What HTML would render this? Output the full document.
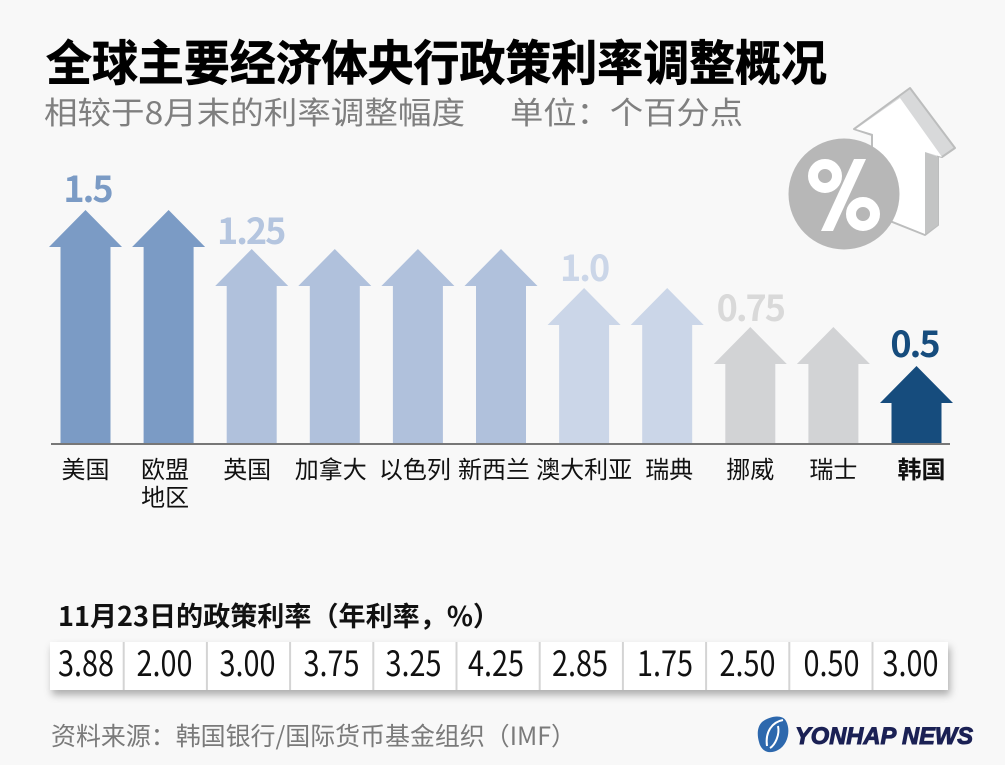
<!DOCTYPE html>
<html lang="zh">
<head>
<meta charset="utf-8">
<title>全球主要经济体央行政策利率调整概况</title>
<style>
html,body{margin:0;padding:0;background:#f8f8f8;}
body{width:1005px;height:765px;overflow:hidden;}
svg{display:block;}
text{font-family:"Noto Sans CJK SC","Liberation Sans",sans-serif;}
text.wordmark{font-family:"Liberation Sans",sans-serif;}
</style>
</head>
<body>
<svg id="chart" xmlns="http://www.w3.org/2000/svg" width="1005" height="765" viewBox="0 0 1005 765">
  <defs>
    <filter id="tableShadow" x="-5%" y="-30%" width="110%" height="170%">
      <feDropShadow dx="2" dy="5" stdDeviation="4" flood-color="#000" flood-opacity="0.3"/>
    </filter>
  </defs>
  <rect x="0" y="0" width="1005" height="765" fill="#f8f8f8"/>

  <text x="46" y="80" font-size="48" font-weight="700" fill="#000" stroke="#000" stroke-width="0.7" textLength="781" lengthAdjust="spacingAndGlyphs">全球主要经济体央行政策利率调整概况</text>
  <text x="44" y="124" font-size="31" fill="#7f7f7f" textLength="421" lengthAdjust="spacingAndGlyphs">相较于8月末的利率调整幅度</text>
  <text x="510" y="124" font-size="31" fill="#7f7f7f" textLength="233" lengthAdjust="spacingAndGlyphs">单位：个百分点</text>

  <g>
    <polygon points="854,129 910,88 955,148 942,157 938,156 938,225 925,235 872,214 872,135" fill="#d8d9da" stroke="#bcbdbd" stroke-width="2" stroke-linejoin="round"/>
    <polygon points="925,152 938,157 938,225 925,234" fill="#c3c4c4"/>
    <polygon points="856,129 900,98 942,157 925,152 925,234 873,213 873,134" fill="#fff"/>
    <circle cx="844" cy="194" r="55.5" fill="#b7b7b7"/>
    <circle cx="825" cy="176" r="12" fill="none" stroke="#fff" stroke-width="10"/>
    <circle cx="863" cy="214" r="12" fill="none" stroke="#fff" stroke-width="10"/>
    <polygon points="854,159 866,159 833,231 821,231" fill="#fff"/>
  </g>

  <g id="marks"></g>
  <line x1="51" x2="950" y1="444" y2="444" stroke="#777" stroke-width="2"/>
  <g id="value-labels"></g>
  <g id="category-labels"></g>

  <text x="58" y="626" font-size="27" font-weight="700" fill="#111" textLength="442" lengthAdjust="spacingAndGlyphs">11月23日的政策利率（年利率，%）</text>
  <rect x="50" y="642" width="898" height="48" fill="#fff" filter="url(#tableShadow)"/>
  <g id="rate-table"></g>

  <text x="51" y="745" font-size="25" fill="#7a7a7a" textLength="525" lengthAdjust="spacingAndGlyphs">资料来源：韩国银行/国际货币基金组织（IMF）</text>

  <g>
    <path d="M762,722 C770,716 782,714 786,721 C791,730 788,745 778,750 C769,755 761,751 759,742 C757,735 757,727 762,722 Z" fill="#2d68ad"/>
    <path d="M783,720 C772,722 765,732 767,746 M778,726 C780,735 775,745 770,748" fill="none" stroke="#fff" stroke-width="2"/>
    <text class="wordmark" x="795" y="744" font-size="24" font-weight="700" font-style="italic" fill="#1b2154" stroke="#1b2154" stroke-width="1" textLength="178" lengthAdjust="spacingAndGlyphs">YONHAP NEWS</text>
  </g>
</svg>
<script>
const categories = ['美国', '欧盟\n地区', '英国', '加拿大', '以色列', '新西兰', '澳大利亚', '瑞典', '挪威', '瑞士', '韩国'];
const rateChanges = [1.5, 1.5, 1.25, 1.25, 1.25, 1.25, 1.0, 1.0, 0.75, 0.75, 0.5];
const printedChanges = ['1.5', '', '1.25', '', '', '', '1.0', '', '0.75', '', '0.5'];
const policyRates = ['3.88', '2.00', '3.00', '3.75', '3.25', '4.25', '2.85', '1.75', '2.50', '0.50', '3.00'];

const SVG_NS = 'http://www.w3.org/2000/svg';
const baseY = 444;
function xScale(i) { return 85.5 + i * 83.1; }
function yScale(v) { return baseY - 156 * v; }
function barColor(i, v) {
  if (i === categories.length - 1) return '#164c7d';
  if (v >= 1.5) return '#7b9bc5';
  if (v >= 1.25) return '#b0c1dc';
  if (v >= 1) return '#cbd6e8';
  return '#d2d3d5';
}
function labelColor(i, v) {
  if (i === categories.length - 1) return '#164c7d';
  if (v >= 1.5) return '#7b9bc5';
  if (v >= 1.25) return '#b4c5df';
  if (v >= 1) return '#cbd6e8';
  return '#d9d9d9';
}
function labelNudge(name) {
  const nudges = { '欧盟\n地区': -3.5, '英国': -4.5, '加拿大': -4, '以色列': -3, '新西兰': -7, '瑞典': 2, '韩国': 5 };
  return nudges[name] || 0;
}
function valueNudgeX(i) {
  const nudges = { 0: 1, 2: -2, 6: -1, 8: -1, 10: -3 };
  return nudges[i] || 0;
}
function valueGapY(i) {
  const gaps = { 0: 8, 2: 5, 6: 7, 8: 6, 10: 9 };
  return gaps[i] || 7;
}
function rateCellCenter(i) {
  const nudges = { 1: -4, 2: -3.5, 3: -2, 4: -2.5, 5: -2.5, 6: -1, 7: 1.5, 8: 1.5, 9: 3, 10: -0.5 };
  return 86 + i * 82.5 + (nudges[i] || 0);
}

const marks = document.getElementById('marks');
const valueLabels = document.getElementById('value-labels');
const categoryLabels = document.getElementById('category-labels');
const rateTable = document.getElementById('rate-table');

categories.forEach(function (name, i) {
  const v = rateChanges[i];
  const cx = xScale(i);
  const top = yScale(v);
  const headBase = top + 37;
  const arrow = document.createElementNS(SVG_NS, 'polygon');
  
  
  arrow.setAttribute('points', [
    [cx, top], [cx + 36.5, headBase], [cx + 25, headBase], [cx + 25, baseY],
    [cx - 25, baseY], [cx - 25, headBase], [cx - 36.5, headBase]
  ].map(function (p) { return p.join(','); }).join(' '));
  arrow.setAttribute('fill', barColor(i, v));
  marks.appendChild(arrow);

  if (printedChanges[i]) {
    const vt = document.createElementNS(SVG_NS, 'text');
    
    
    vt.setAttribute('x', cx + 1 + valueNudgeX(i));
    vt.setAttribute('y', top - valueGapY(i));
    vt.setAttribute('text-anchor', 'middle');
    vt.setAttribute('font-size', '36');
    vt.setAttribute('font-weight', '700');
    vt.setAttribute('letter-spacing', '-2');
    vt.setAttribute('fill', labelColor(i, v));
    vt.textContent = printedChanges[i];
    valueLabels.appendChild(vt);
  }

  name.split('\n').forEach(function (line, k) {
    const ct = document.createElementNS(SVG_NS, 'text');
    
    
    ct.setAttribute('x', cx + labelNudge(name));
    ct.setAttribute('y', 478 + k * 28);
    ct.setAttribute('text-anchor', 'middle');
    ct.setAttribute('font-size', '24');
    ct.setAttribute('font-weight', i === categories.length - 1 ? '700' : '400');
    ct.setAttribute('fill', '#111');
    ct.textContent = line;
    categoryLabels.appendChild(ct);
  });
});

policyRates.forEach(function (rate, i) {
  const rt = document.createElementNS(SVG_NS, 'text');
  
  
  rt.setAttribute('x', rateCellCenter(i));
  rt.setAttribute('y', 676);
  rt.setAttribute('text-anchor', 'middle');
  rt.setAttribute('font-size', '35');
  rt.setAttribute('textLength', '56');
  rt.setAttribute('lengthAdjust', 'spacingAndGlyphs');
  rt.setAttribute('fill', '#111');
  rt.textContent = rate;
  rateTable.appendChild(rt);

  if (i > 0) {
    const sepX = 123.7 + (i - 1) * 83.2;
    const sep = document.createElementNS(SVG_NS, 'line');
    
    
    sep.setAttribute('x1', sepX);
    sep.setAttribute('x2', sepX);
    sep.setAttribute('y1', 642);
    sep.setAttribute('y2', 690);
    sep.setAttribute('stroke', '#d4d4d4');
    sep.setAttribute('stroke-width', '2');
    rateTable.appendChild(sep);
  }
});
</script>
</body>
</html>
